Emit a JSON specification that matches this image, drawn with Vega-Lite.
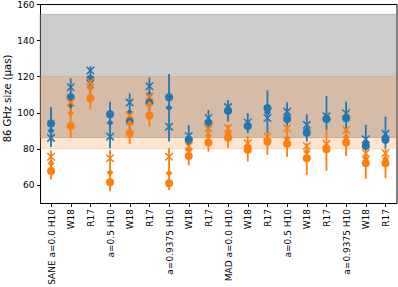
{
  "$schema": "https://vega.github.io/schema/vega-lite/v6.json",
  "autosize": {"type": "none"},
  "padding": {"left": 40, "top": 4, "right": 1.5, "bottom": 84},
  "width": 356.5,
  "height": 199,
  "config": {
    "font": "DejaVu Sans",
    "view": {"stroke": "#000000", "strokeWidth": 1},
    "axis": {
      "domainColor": "#000000", "tickColor": "#000000", "labelColor": "#000000", "titleColor": "#000000",
      "labelFontSize": 9, "titleFontSize": 10, "titleFontWeight": "normal",
      "tickSize": 3.5, "labelPadding": 2, "grid": false, "domainWidth": 1, "tickWidth": 1
    },
    "axisY": {"titleAngle": 270, "titleBaseline": "alphabetic", "titleX": -30, "titleY": 94, "titleAlign": "center", "labelPadding": 2.5},
    "axisX": {"labelAngle": 270, "labelAlign": "right", "labelBaseline": "middle", "labelPadding": 2}
  },
  "datasets": {
    "gray_band": [{"band": "gray", "lo": 86.2, "hi": 154.3}],
    "orange_band": [{"band": "orange", "lo": 80, "hi": 120}],
    "bars": [
      {"model": "SANE a=0.0 H10", "series": "s1", "lo": 81, "hi": 103},
      {"model": "SANE a=0.0 W18", "series": "s1", "lo": 98, "hi": 119},
      {"model": "SANE a=0.0 R17", "series": "s1", "lo": 108, "hi": 125.5},
      {"model": "SANE a=0.5 H10", "series": "s1", "lo": 80.3, "hi": 106},
      {"model": "SANE a=0.5 W18", "series": "s1", "lo": 89, "hi": 110.5},
      {"model": "SANE a=0.5 R17", "series": "s1", "lo": 100, "hi": 119.5},
      {"model": "SANE a=0.9375 H10", "series": "s1", "lo": 84, "hi": 121.3},
      {"model": "SANE a=0.9375 W18", "series": "s1", "lo": 80, "hi": 93},
      {"model": "SANE a=0.9375 R17", "series": "s1", "lo": 88, "hi": 101.4},
      {"model": "MAD a=0.0 H10", "series": "s1", "lo": 95, "hi": 107},
      {"model": "MAD a=0.0 W18", "series": "s1", "lo": 88.6, "hi": 99.6},
      {"model": "MAD a=0.0 R17", "series": "s1", "lo": 88.6, "hi": 112.3},
      {"model": "MAD a=0.5 H10", "series": "s1", "lo": 90, "hi": 105.6},
      {"model": "MAD a=0.5 W18", "series": "s1", "lo": 84, "hi": 99.1},
      {"model": "MAD a=0.5 R17", "series": "s1", "lo": 90.4, "hi": 109.2},
      {"model": "MAD a=0.9375 H10", "series": "s1", "lo": 91, "hi": 106},
      {"model": "MAD a=0.9375 W18", "series": "s1", "lo": 78, "hi": 93.2},
      {"model": "MAD a=0.9375 R17", "series": "s1", "lo": 80.3, "hi": 97.8},
      {"model": "SANE a=0.0 H10", "series": "s2", "lo": 63, "hi": 79},
      {"model": "SANE a=0.0 W18", "series": "s2", "lo": 86, "hi": 107},
      {"model": "SANE a=0.0 R17", "series": "s2", "lo": 101.8, "hi": 117},
      {"model": "SANE a=0.5 H10", "series": "s2", "lo": 56.3, "hi": 79.3},
      {"model": "SANE a=0.5 W18", "series": "s2", "lo": 82.7, "hi": 100},
      {"model": "SANE a=0.5 R17", "series": "s2", "lo": 92.2, "hi": 110},
      {"model": "SANE a=0.9375 H10", "series": "s2", "lo": 57.2, "hi": 80.3},
      {"model": "SANE a=0.9375 W18", "series": "s2", "lo": 70.7, "hi": 84},
      {"model": "SANE a=0.9375 R17", "series": "s2", "lo": 78.4, "hi": 91},
      {"model": "MAD a=0.0 H10", "series": "s2", "lo": 80.3, "hi": 93.2},
      {"model": "MAD a=0.0 W18", "series": "s2", "lo": 72.9, "hi": 87},
      {"model": "MAD a=0.0 R17", "series": "s2", "lo": 76.6, "hi": 88.6},
      {"model": "MAD a=0.5 H10", "series": "s2", "lo": 75.5, "hi": 93},
      {"model": "MAD a=0.5 W18", "series": "s2", "lo": 65.5, "hi": 83},
      {"model": "MAD a=0.5 R17", "series": "s2", "lo": 67.9, "hi": 90.4},
      {"model": "MAD a=0.9375 H10", "series": "s2", "lo": 76, "hi": 91},
      {"model": "MAD a=0.9375 W18", "series": "s2", "lo": 63.3, "hi": 79},
      {"model": "MAD a=0.9375 R17", "series": "s2", "lo": 63.7, "hi": 80.3}
    ],
    "markers": [
      {"model": "SANE a=0.0 H10", "series": "s1", "marker": "circle", "value": 94},
      {"model": "SANE a=0.0 H10", "series": "s1", "marker": "diamond", "value": 90},
      {"model": "SANE a=0.0 H10", "series": "s1", "marker": "cross", "value": 86},
      {"model": "SANE a=0.0 W18", "series": "s1", "marker": "circle", "value": 108.5},
      {"model": "SANE a=0.0 W18", "series": "s1", "marker": "diamond", "value": 104.2},
      {"model": "SANE a=0.0 W18", "series": "s1", "marker": "cross", "value": 114},
      {"model": "SANE a=0.0 R17", "series": "s1", "marker": "circle", "value": 118.6},
      {"model": "SANE a=0.0 R17", "series": "s1", "marker": "diamond", "value": 113.8},
      {"model": "SANE a=0.0 R17", "series": "s1", "marker": "cross", "value": 123.2},
      {"model": "SANE a=0.5 H10", "series": "s1", "marker": "circle", "value": 99.1},
      {"model": "SANE a=0.5 H10", "series": "s1", "marker": "diamond", "value": 94.4},
      {"model": "SANE a=0.5 H10", "series": "s1", "marker": "cross", "value": 86.7},
      {"model": "SANE a=0.5 W18", "series": "s1", "marker": "circle", "value": 95},
      {"model": "SANE a=0.5 W18", "series": "s1", "marker": "diamond", "value": 100},
      {"model": "SANE a=0.5 W18", "series": "s1", "marker": "cross", "value": 105.5},
      {"model": "SANE a=0.5 R17", "series": "s1", "marker": "circle", "value": 105.5},
      {"model": "SANE a=0.5 R17", "series": "s1", "marker": "diamond", "value": 110},
      {"model": "SANE a=0.5 R17", "series": "s1", "marker": "cross", "value": 114.5},
      {"model": "SANE a=0.9375 H10", "series": "s1", "marker": "circle", "value": 108.4},
      {"model": "SANE a=0.9375 H10", "series": "s1", "marker": "diamond", "value": 102.7},
      {"model": "SANE a=0.9375 H10", "series": "s1", "marker": "cross", "value": 92.2},
      {"model": "SANE a=0.9375 W18", "series": "s1", "marker": "circle", "value": 85},
      {"model": "SANE a=0.9375 W18", "series": "s1", "marker": "diamond", "value": 83},
      {"model": "SANE a=0.9375 W18", "series": "s1", "marker": "cross", "value": 87},
      {"model": "SANE a=0.9375 R17", "series": "s1", "marker": "circle", "value": 94},
      {"model": "SANE a=0.9375 R17", "series": "s1", "marker": "diamond", "value": 92.5},
      {"model": "SANE a=0.9375 R17", "series": "s1", "marker": "cross", "value": 97},
      {"model": "MAD a=0.0 H10", "series": "s1", "marker": "circle", "value": 101},
      {"model": "MAD a=0.0 H10", "series": "s1", "marker": "diamond", "value": 102},
      {"model": "MAD a=0.0 H10", "series": "s1", "marker": "cross", "value": 103},
      {"model": "MAD a=0.0 W18", "series": "s1", "marker": "circle", "value": 92.6},
      {"model": "MAD a=0.0 W18", "series": "s1", "marker": "diamond", "value": 93.5},
      {"model": "MAD a=0.0 W18", "series": "s1", "marker": "cross", "value": 94.5},
      {"model": "MAD a=0.0 R17", "series": "s1", "marker": "circle", "value": 102.4},
      {"model": "MAD a=0.0 R17", "series": "s1", "marker": "diamond", "value": 100},
      {"model": "MAD a=0.0 R17", "series": "s1", "marker": "cross", "value": 97},
      {"model": "MAD a=0.5 H10", "series": "s1", "marker": "circle", "value": 96.4},
      {"model": "MAD a=0.5 H10", "series": "s1", "marker": "diamond", "value": 98},
      {"model": "MAD a=0.5 H10", "series": "s1", "marker": "cross", "value": 100.5},
      {"model": "MAD a=0.5 W18", "series": "s1", "marker": "circle", "value": 88.9},
      {"model": "MAD a=0.5 W18", "series": "s1", "marker": "diamond", "value": 90.5},
      {"model": "MAD a=0.5 W18", "series": "s1", "marker": "cross", "value": 93.2},
      {"model": "MAD a=0.5 R17", "series": "s1", "marker": "circle", "value": 96.5},
      {"model": "MAD a=0.5 R17", "series": "s1", "marker": "diamond", "value": 97},
      {"model": "MAD a=0.5 R17", "series": "s1", "marker": "cross", "value": 98},
      {"model": "MAD a=0.9375 H10", "series": "s1", "marker": "circle", "value": 96.8},
      {"model": "MAD a=0.9375 H10", "series": "s1", "marker": "diamond", "value": 98},
      {"model": "MAD a=0.9375 H10", "series": "s1", "marker": "cross", "value": 99.6},
      {"model": "MAD a=0.9375 W18", "series": "s1", "marker": "circle", "value": 81.5},
      {"model": "MAD a=0.9375 W18", "series": "s1", "marker": "diamond", "value": 83},
      {"model": "MAD a=0.9375 W18", "series": "s1", "marker": "cross", "value": 85.2},
      {"model": "MAD a=0.9375 R17", "series": "s1", "marker": "circle", "value": 84.9},
      {"model": "MAD a=0.9375 R17", "series": "s1", "marker": "diamond", "value": 86.5},
      {"model": "MAD a=0.9375 R17", "series": "s1", "marker": "cross", "value": 88.2},
      {"model": "SANE a=0.0 H10", "series": "s2", "marker": "circle", "value": 67.7},
      {"model": "SANE a=0.0 H10", "series": "s2", "marker": "diamond", "value": 72},
      {"model": "SANE a=0.0 H10", "series": "s2", "marker": "cross", "value": 75.6},
      {"model": "SANE a=0.0 W18", "series": "s2", "marker": "circle", "value": 92.6},
      {"model": "SANE a=0.0 W18", "series": "s2", "marker": "diamond", "value": 99.6},
      {"model": "SANE a=0.0 W18", "series": "s2", "marker": "cross", "value": 105.5},
      {"model": "SANE a=0.0 R17", "series": "s2", "marker": "circle", "value": 107.9},
      {"model": "SANE a=0.0 R17", "series": "s2", "marker": "diamond", "value": 113.4},
      {"model": "SANE a=0.0 R17", "series": "s2", "marker": "cross", "value": 117},
      {"model": "SANE a=0.5 H10", "series": "s2", "marker": "circle", "value": 61.5},
      {"model": "SANE a=0.5 H10", "series": "s2", "marker": "diamond", "value": 66.8},
      {"model": "SANE a=0.5 H10", "series": "s2", "marker": "cross", "value": 74.7},
      {"model": "SANE a=0.5 W18", "series": "s2", "marker": "circle", "value": 88.6},
      {"model": "SANE a=0.5 W18", "series": "s2", "marker": "diamond", "value": 94},
      {"model": "SANE a=0.5 W18", "series": "s2", "marker": "cross", "value": 98.5},
      {"model": "SANE a=0.5 R17", "series": "s2", "marker": "circle", "value": 98.3},
      {"model": "SANE a=0.5 R17", "series": "s2", "marker": "diamond", "value": 104.5},
      {"model": "SANE a=0.5 R17", "series": "s2", "marker": "cross", "value": 109},
      {"model": "SANE a=0.9375 H10", "series": "s2", "marker": "circle", "value": 60.9},
      {"model": "SANE a=0.9375 H10", "series": "s2", "marker": "diamond", "value": 66.5},
      {"model": "SANE a=0.9375 H10", "series": "s2", "marker": "cross", "value": 75.6},
      {"model": "SANE a=0.9375 W18", "series": "s2", "marker": "circle", "value": 76},
      {"model": "SANE a=0.9375 W18", "series": "s2", "marker": "diamond", "value": 79.3},
      {"model": "SANE a=0.9375 W18", "series": "s2", "marker": "cross", "value": 81.5},
      {"model": "SANE a=0.9375 R17", "series": "s2", "marker": "circle", "value": 83.4},
      {"model": "SANE a=0.9375 R17", "series": "s2", "marker": "diamond", "value": 87.3},
      {"model": "SANE a=0.9375 R17", "series": "s2", "marker": "cross", "value": 91.3},
      {"model": "MAD a=0.0 H10", "series": "s2", "marker": "circle", "value": 86.1},
      {"model": "MAD a=0.0 H10", "series": "s2", "marker": "diamond", "value": 88.6},
      {"model": "MAD a=0.0 H10", "series": "s2", "marker": "cross", "value": 91.3},
      {"model": "MAD a=0.0 W18", "series": "s2", "marker": "circle", "value": 79.5},
      {"model": "MAD a=0.0 W18", "series": "s2", "marker": "diamond", "value": 81.5},
      {"model": "MAD a=0.0 W18", "series": "s2", "marker": "cross", "value": 83},
      {"model": "MAD a=0.0 R17", "series": "s2", "marker": "circle", "value": 83.9},
      {"model": "MAD a=0.0 R17", "series": "s2", "marker": "diamond", "value": 85},
      {"model": "MAD a=0.0 R17", "series": "s2", "marker": "cross", "value": 86.7},
      {"model": "MAD a=0.5 H10", "series": "s2", "marker": "circle", "value": 82.8},
      {"model": "MAD a=0.5 H10", "series": "s2", "marker": "diamond", "value": 85.8},
      {"model": "MAD a=0.5 H10", "series": "s2", "marker": "cross", "value": 91.3},
      {"model": "MAD a=0.5 W18", "series": "s2", "marker": "circle", "value": 74.7},
      {"model": "MAD a=0.5 W18", "series": "s2", "marker": "diamond", "value": 78.4},
      {"model": "MAD a=0.5 W18", "series": "s2", "marker": "cross", "value": 81.5},
      {"model": "MAD a=0.5 R17", "series": "s2", "marker": "circle", "value": 79.7},
      {"model": "MAD a=0.5 R17", "series": "s2", "marker": "diamond", "value": 81},
      {"model": "MAD a=0.5 R17", "series": "s2", "marker": "cross", "value": 82.7},
      {"model": "MAD a=0.9375 H10", "series": "s2", "marker": "circle", "value": 83.4},
      {"model": "MAD a=0.9375 H10", "series": "s2", "marker": "diamond", "value": 86.3},
      {"model": "MAD a=0.9375 H10", "series": "s2", "marker": "cross", "value": 90.4},
      {"model": "MAD a=0.9375 W18", "series": "s2", "marker": "circle", "value": 72},
      {"model": "MAD a=0.9375 W18", "series": "s2", "marker": "diamond", "value": 74.7},
      {"model": "MAD a=0.9375 W18", "series": "s2", "marker": "cross", "value": 77.5},
      {"model": "MAD a=0.9375 R17", "series": "s2", "marker": "circle", "value": 72},
      {"model": "MAD a=0.9375 R17", "series": "s2", "marker": "diamond", "value": 74.5},
      {"model": "MAD a=0.9375 R17", "series": "s2", "marker": "cross", "value": 77.5}
    ]
  },
  "layer": [
    {
      "data": {"name": "gray_band"},
      "mark": {"type": "rect", "fill": "#808080", "fillOpacity": 0.4, "stroke": "#808080", "strokeOpacity": 0.4, "strokeWidth": 1},
      "encoding": {
        "y": {"field": "lo", "type": "quantitative", "title": "86 GHz size (μas)", "scale": {"domain": [50, 160], "nice": false, "zero": false}, "axis": {"values": [60, 80, 100, 120, 140, 160]}},
        "y2": {"field": "hi"}
      }
    },
    {
      "data": {"name": "orange_band"},
      "mark": {"type": "rect", "fill": "#ff7f0e", "fillOpacity": 0.2, "stroke": "#ff7f0e", "strokeOpacity": 0.2, "strokeWidth": 1},
      "encoding": {
        "y": {"field": "lo", "type": "quantitative", "title": "86 GHz size (μas)", "scale": {"domain": [50, 160], "nice": false, "zero": false}, "axis": {"values": [60, 80, 100, 120, 140, 160]}},
        "y2": {"field": "hi"}
      }
    },
    {
      "data": {"name": "bars"},
      "mark": {"type": "rule", "strokeWidth": 1.8},
      "encoding": {
        "x": {"field": "model", "type": "ordinal", "title": null,
          "scale": {"type": "point", "padding": 0.56, "domain": ["SANE a=0.0 H10", "SANE a=0.0 W18", "SANE a=0.0 R17", "SANE a=0.5 H10", "SANE a=0.5 W18", "SANE a=0.5 R17", "SANE a=0.9375 H10", "SANE a=0.9375 W18", "SANE a=0.9375 R17", "MAD a=0.0 H10", "MAD a=0.0 W18", "MAD a=0.0 R17", "MAD a=0.5 H10", "MAD a=0.5 W18", "MAD a=0.5 R17", "MAD a=0.9375 H10", "MAD a=0.9375 W18", "MAD a=0.9375 R17"]},
          "axis": {"labelExpr": "indexof(datum.value,'H10')<0 ? substring(datum.value, lastindexof(datum.value,' ')+1) : (indexof(datum.value,'a=0.0')>=0 ? datum.value : substring(datum.value, indexof(datum.value,' ')+1))"}},
        "y": {"field": "lo", "type": "quantitative", "title": "86 GHz size (μas)", "scale": {"domain": [50, 160], "nice": false, "zero": false}, "axis": {"values": [60, 80, 100, 120, 140, 160]}},
        "y2": {"field": "hi"},
        "color": {"field": "series", "type": "nominal", "scale": {"domain": ["s1", "s2"], "range": ["#1f77b4", "#ff7f0e"]}, "legend": null}
      }
    },
    {
      "data": {"name": "markers"},
      "transform": [{"filter": "datum.marker === 'circle'"}],
      "mark": {"type": "point", "shape": "circle", "filled": true, "opacity": 1, "size": 64},
      "encoding": {
        "x": {"field": "model", "type": "ordinal", "title": null,
          "scale": {"type": "point", "padding": 0.56, "domain": ["SANE a=0.0 H10", "SANE a=0.0 W18", "SANE a=0.0 R17", "SANE a=0.5 H10", "SANE a=0.5 W18", "SANE a=0.5 R17", "SANE a=0.9375 H10", "SANE a=0.9375 W18", "SANE a=0.9375 R17", "MAD a=0.0 H10", "MAD a=0.0 W18", "MAD a=0.0 R17", "MAD a=0.5 H10", "MAD a=0.5 W18", "MAD a=0.5 R17", "MAD a=0.9375 H10", "MAD a=0.9375 W18", "MAD a=0.9375 R17"]},
          "axis": {"labelExpr": "indexof(datum.value,'H10')<0 ? substring(datum.value, lastindexof(datum.value,' ')+1) : (indexof(datum.value,'a=0.0')>=0 ? datum.value : substring(datum.value, indexof(datum.value,' ')+1))"}},
        "y": {"field": "value", "type": "quantitative", "title": "86 GHz size (μas)", "scale": {"domain": [50, 160], "nice": false, "zero": false}, "axis": {"values": [60, 80, 100, 120, 140, 160]}},
        "color": {"field": "series", "type": "nominal", "scale": {"domain": ["s1", "s2"], "range": ["#1f77b4", "#ff7f0e"]}, "legend": null}
      }
    },
    {
      "data": {"name": "markers"},
      "transform": [{"filter": "datum.marker === 'diamond'"}],
      "mark": {"type": "point", "shape": "diamond", "filled": true, "opacity": 1, "size": 49},
      "encoding": {
        "x": {"field": "model", "type": "ordinal", "title": null,
          "scale": {"type": "point", "padding": 0.56, "domain": ["SANE a=0.0 H10", "SANE a=0.0 W18", "SANE a=0.0 R17", "SANE a=0.5 H10", "SANE a=0.5 W18", "SANE a=0.5 R17", "SANE a=0.9375 H10", "SANE a=0.9375 W18", "SANE a=0.9375 R17", "MAD a=0.0 H10", "MAD a=0.0 W18", "MAD a=0.0 R17", "MAD a=0.5 H10", "MAD a=0.5 W18", "MAD a=0.5 R17", "MAD a=0.9375 H10", "MAD a=0.9375 W18", "MAD a=0.9375 R17"]},
          "axis": {"labelExpr": "indexof(datum.value,'H10')<0 ? substring(datum.value, lastindexof(datum.value,' ')+1) : (indexof(datum.value,'a=0.0')>=0 ? datum.value : substring(datum.value, indexof(datum.value,' ')+1))"}},
        "y": {"field": "value", "type": "quantitative", "title": "86 GHz size (μas)", "scale": {"domain": [50, 160], "nice": false, "zero": false}, "axis": {"values": [60, 80, 100, 120, 140, 160]}},
        "color": {"field": "series", "type": "nominal", "scale": {"domain": ["s1", "s2"], "range": ["#1f77b4", "#ff7f0e"]}, "legend": null}
      }
    },
    {
      "data": {"name": "markers"},
      "transform": [{"filter": "datum.marker === 'cross'"}],
      "mark": {"type": "point", "shape": "M-1,-1L1,1M-1,1L1,-1", "filled": false, "opacity": 1, "size": 56, "strokeWidth": 1.5},
      "encoding": {
        "x": {"field": "model", "type": "ordinal", "title": null,
          "scale": {"type": "point", "padding": 0.56, "domain": ["SANE a=0.0 H10", "SANE a=0.0 W18", "SANE a=0.0 R17", "SANE a=0.5 H10", "SANE a=0.5 W18", "SANE a=0.5 R17", "SANE a=0.9375 H10", "SANE a=0.9375 W18", "SANE a=0.9375 R17", "MAD a=0.0 H10", "MAD a=0.0 W18", "MAD a=0.0 R17", "MAD a=0.5 H10", "MAD a=0.5 W18", "MAD a=0.5 R17", "MAD a=0.9375 H10", "MAD a=0.9375 W18", "MAD a=0.9375 R17"]},
          "axis": {"labelExpr": "indexof(datum.value,'H10')<0 ? substring(datum.value, lastindexof(datum.value,' ')+1) : (indexof(datum.value,'a=0.0')>=0 ? datum.value : substring(datum.value, indexof(datum.value,' ')+1))"}},
        "y": {"field": "value", "type": "quantitative", "title": "86 GHz size (μas)", "scale": {"domain": [50, 160], "nice": false, "zero": false}, "axis": {"values": [60, 80, 100, 120, 140, 160]}},
        "color": {"field": "series", "type": "nominal", "scale": {"domain": ["s1", "s2"], "range": ["#1f77b4", "#ff7f0e"]}, "legend": null}
      }
    }
  ]
}
